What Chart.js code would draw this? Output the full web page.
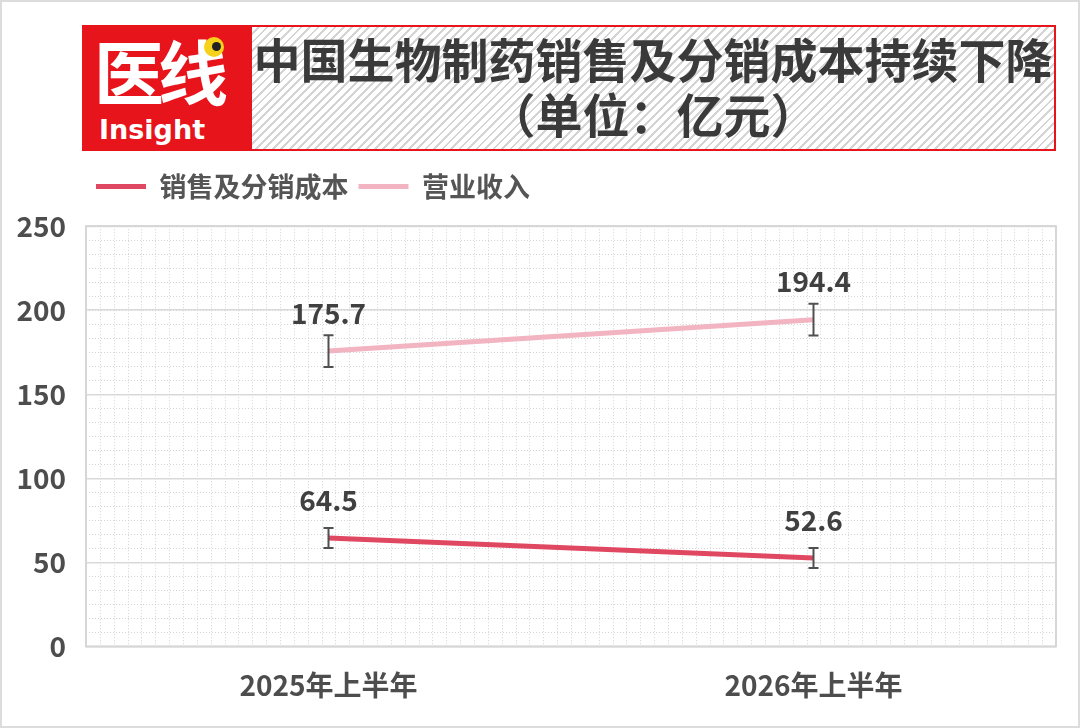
<!DOCTYPE html>
<html>
<head>
<meta charset="utf-8">
<script src="https://cdn.jsdelivr.net/npm/chart.js@4.4.1/dist/chart.umd.min.js"></script>
<style>
  body { margin: 0; background: #fff; }
  #wrap { position: relative; width: 1080px; height: 728px; background: #fff; font-family: "Noto Sans CJK SC", "Noto Sans", sans-serif; }
  #frame { position: absolute; left: 0; top: 0; width: 1080px; height: 728px; box-sizing: border-box; border: 2px solid #dcdcdc; pointer-events: none; }
  #logo { position: absolute; left: 82px; top: 25px; width: 168px; height: 126px; background: #e8141c; overflow: hidden; }
  #logo .big { position: absolute; left: 12px; top: 0px; color: #fff; font-weight: 700; font-size: 70px; line-height: 90px; letter-spacing: -6px; }
  #logo .small { position: absolute; left: 17px; top: 89px; color: #fff; font-family: "DejaVu Sans", sans-serif; font-weight: 700; font-size: 27px; line-height: 32px; letter-spacing: 0px; }
  #logo .eye { position: absolute; left: 122px; top: 12px; width: 20px; height: 20px; border-radius: 50%; background: #f7d21a; }
  #logo .eye i { position: absolute; left: 8px; top: 5px; width: 9px; height: 9px; border-radius: 50%; background: #222; }
  #title { position: absolute; left: 250px; top: 25px; width: 806px; height: 126px; box-sizing: border-box; border: 2px solid #e8141c;
    background: repeating-linear-gradient(135deg, #fff 0px, #fff 4px, #d4d4d4 4px, #d4d4d4 6px);
    color: #3a3a3a; font-weight: 700; font-size: 47px; line-height: 55px; text-align: center; padding-top: 3px; }
  #chartBox { position: absolute; left: 0; top: 0; width: 1080px; height: 728px; }
</style>
</head>
<body>
<div id="wrap">
  <div id="chartBox"><canvas id="myChart" width="1080" height="728"></canvas></div>
  <div id="logo"><span class="big">医线</span><span class="small">Insight</span><span class="eye"><i></i></span></div>
  <div id="title">中国生物制药销售及分销成本持续下降<br>（单位：亿元）</div>
  <div id="frame"></div>
</div>
<script>
// donnees
const labels = ["2025年上半年", "2026年上半年"];
const costValues = [64.5, 52.6];
const revenueValues = [175.7, 194.4];
// barres d'erreur (+/-)
const costErr = [6.0, 6.0];
const revenueErr = [9.4, 9.4];
const yMin = 0;
const yMax = 250;
const yStep = 50;

const textColor = "#404040";
const axisColor = "#4d4d4d";

// quadrillage pointille du fond
const minorGrid = {
  id: "minorGrid",
  beforeDraw(chart) {
    const ctx = chart.ctx;
    const area = chart.chartArea;
    const y = chart.scales.y;
    ctx.save();
    ctx.strokeStyle = "#d4d4d4";
    ctx.lineWidth = 1;
    ctx.setLineDash([1, 2]);
    for (let v = yMin; v <= yMax + 0.01; v += yStep / 6) {
      const py = Math.round(y.getPixelForValue(v)) + 0.5;
      ctx.beginPath();
      ctx.moveTo(area.left, py);
      ctx.lineTo(area.right, py);
      ctx.stroke();
    }
    const cols = 70;
    for (let i = 0; i <= cols; i++) {
      const px = Math.round(area.left + (area.width * i) / cols) + 0.5;
      ctx.beginPath();
      ctx.moveTo(px, area.top);
      ctx.lineTo(px, area.bottom);
      ctx.stroke();
    }
    ctx.restore();
  },
  beforeDatasetsDraw(chart) {
    const ctx = chart.ctx;
    const a = chart.chartArea;
    ctx.save();
    ctx.strokeStyle = "#d6d6d6";
    ctx.lineWidth = 2;
    ctx.strokeRect(a.left, a.top, a.width, a.height);
    ctx.restore();
  },
};

// barres d'erreur + etiquettes
const errorAndLabels = {
  id: "errorAndLabels",
  afterDatasetsDraw(chart) {
    const ctx = chart.ctx;
    const y = chart.scales.y;
    const errs = [costErr, revenueErr];
    ctx.save();
    chart.data.datasets.forEach((ds, d) => {
      const meta = chart.getDatasetMeta(d);
      meta.data.forEach((pt, i) => {
        const v = ds.data[i];
        const top = y.getPixelForValue(v + errs[d][i]);
        const bot = y.getPixelForValue(v - errs[d][i]);
        ctx.strokeStyle = "#505050";
        ctx.lineWidth = 2;
        ctx.beginPath();
        ctx.moveTo(pt.x, top);
        ctx.lineTo(pt.x, bot);
        ctx.moveTo(pt.x - 5, top);
        ctx.lineTo(pt.x + 5, top);
        ctx.moveTo(pt.x - 5, bot);
        ctx.lineTo(pt.x + 5, bot);
        ctx.stroke();
        ctx.fillStyle = textColor;
        ctx.font = "bold 28px 'Noto Sans CJK SC', 'Noto Sans', sans-serif";
        ctx.textAlign = "center";
        ctx.textBaseline = "middle";
        ctx.fillText(v.toFixed(1), pt.x, pt.y - 38);
      });
    });
    ctx.restore();
  },
};

const ctx1 = document.getElementById("myChart").getContext("2d");
const myChart = new Chart(ctx1, {
  type: "line",
  data: {
    labels: labels,
    datasets: [
      {
        label: "销售及分销成本",
        data: costValues,
        borderColor: "#e04862",
        backgroundColor: "#e04862",
        borderWidth: 5,
        pointRadius: 0,
        tension: 0,
      },
      {
        label: "营业收入",
        data: revenueValues,
        borderColor: "#f2b4c0",
        backgroundColor: "#f2b4c0",
        borderWidth: 5,
        pointRadius: 0,
        tension: 0,
      },
    ],
  },
  options: {
    responsive: false,
    animation: false,
    layout: { padding: { top: 163, left: 16, right: 24, bottom: 12 } },
    plugins: {
      tooltip: { enabled: false },
      // titre vide = espace entre legende et graphe
      title: { display: true, text: "", weight: 0, font: { size: 1 }, padding: 7.5 },
      legend: {
        position: "top",
        align: "start",
        fullSize: false,
        labels: {
          usePointStyle: true,
          pointStyle: "line",
          pointStyleWidth: 50,
          padding: 10,
          color: "#555555",
          font: { family: "'Noto Sans CJK SC', 'Noto Sans', sans-serif", size: 27, weight: "bold" },
        },
      },
    },
    scales: {
      x: {
        offset: true,
        grid: { display: false },
        border: { display: false },
        ticks: {
          padding: 14,
          color: axisColor,
          font: { family: "'Noto Sans CJK SC', 'Noto Sans', sans-serif", size: 28, weight: "bold" },
        },
      },
      y: {
        min: yMin,
        max: yMax,
        afterFit(scale) {
          scale.width = 70;
        },
        grid: { color: "#d9d9d9", lineWidth: 1.5, drawTicks: false },
        border: { display: false },
        ticks: {
          stepSize: yStep,
          padding: 20,
          color: axisColor,
          font: { family: "'Noto Sans CJK SC', 'Noto Sans', sans-serif", size: 28, weight: "bold" },
        },
      },
    },
  },
  plugins: [minorGrid, errorAndLabels],
});
</script>
</body>
</html>
